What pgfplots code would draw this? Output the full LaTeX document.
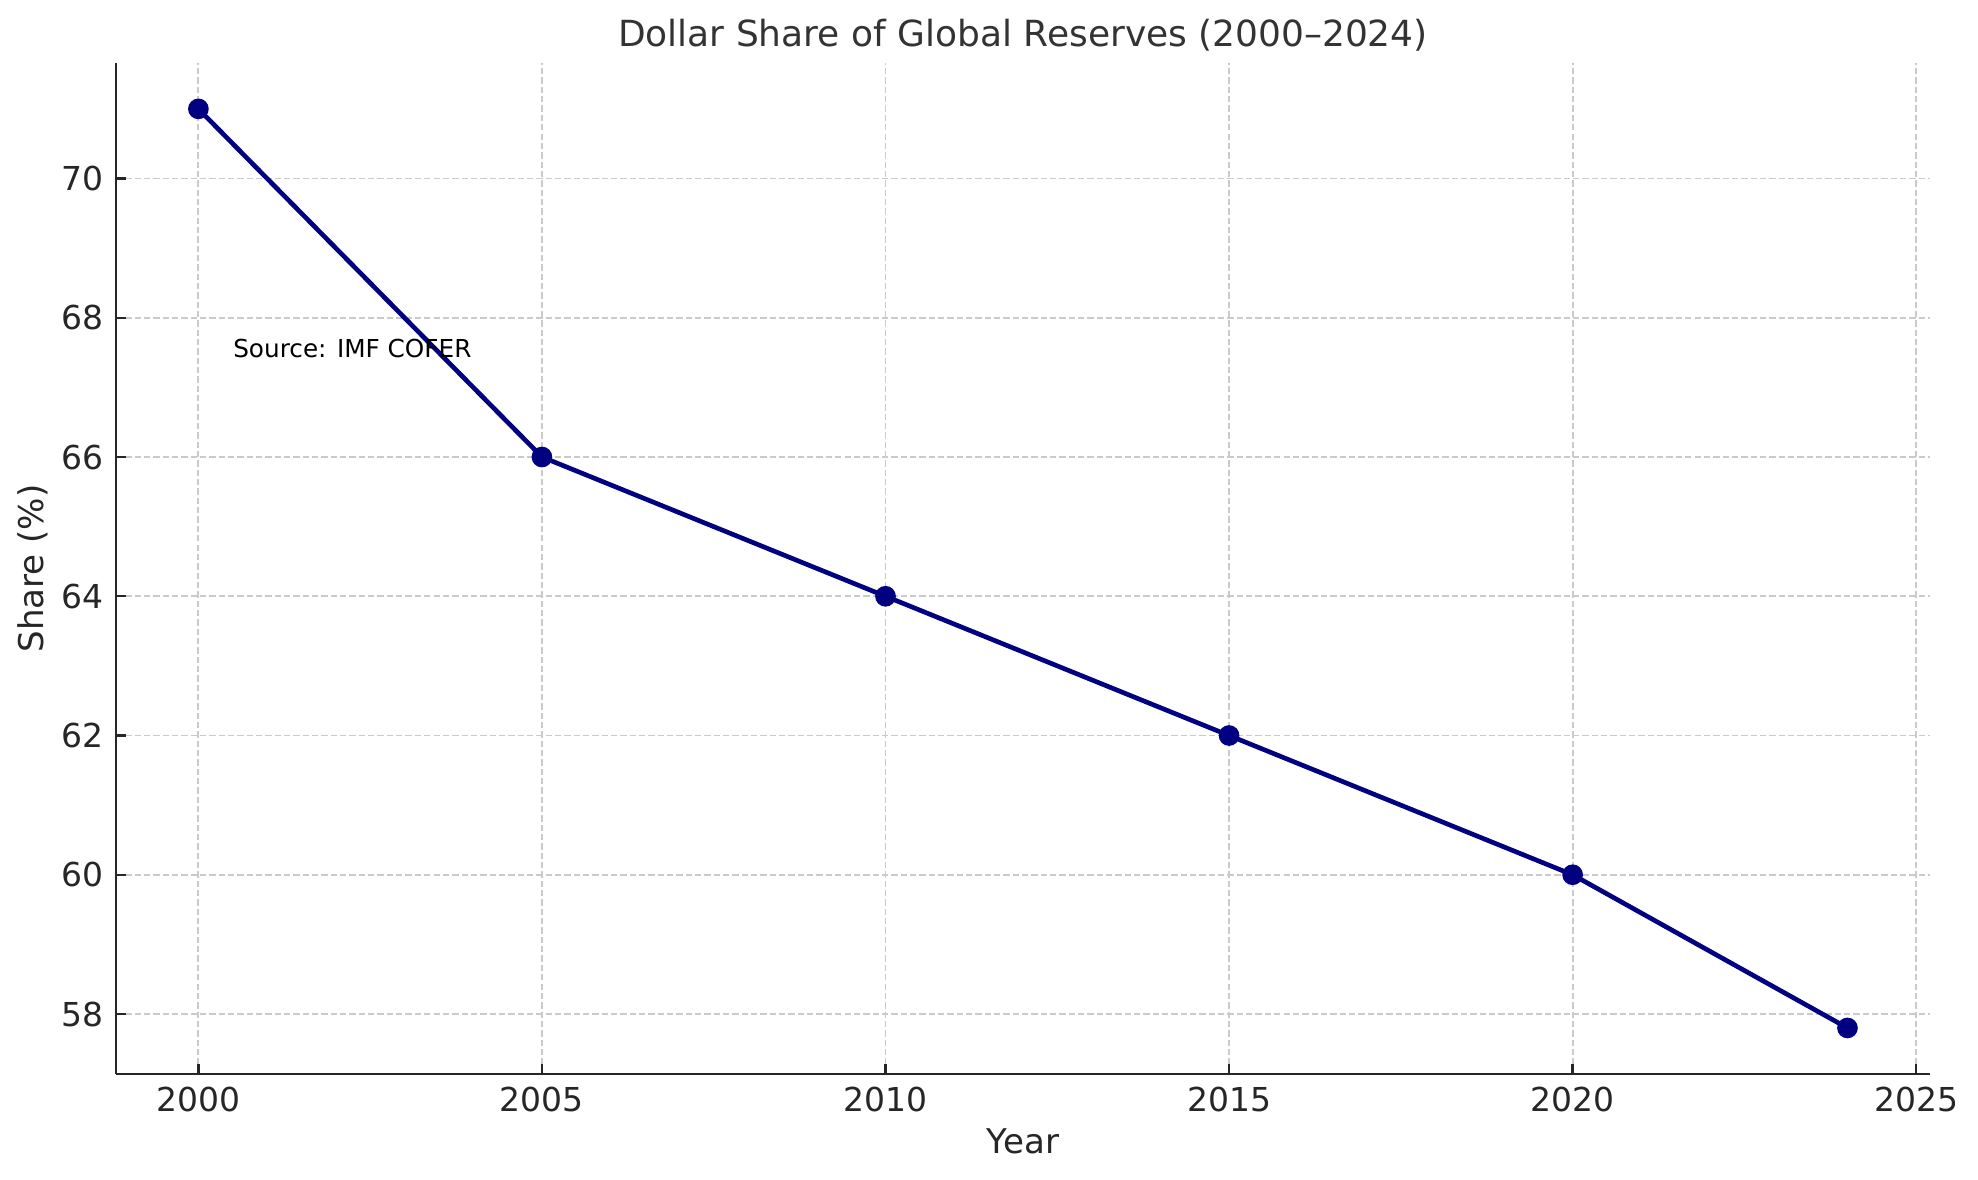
\documentclass[border=0pt]{standalone}
\usepackage{pgfplots}
\pgfplotsset{compat=1.18}
\usepackage{fontspec}
\setmainfont{DejaVu Sans}
\definecolor{navyline}{HTML}{000080}
\definecolor{spine}{HTML}{262626}
\definecolor{titlec}{HTML}{333333}
\definecolor{gridc}{HTML}{CACACA}
\begin{document}
\begin{tikzpicture}
\useasboundingbox (-42.2pt,-38.6pt) rectangle (677.8pt,390.9pt);
\begin{axis}[
  at={(0,0)}, anchor=south west,
  scale only axis,
  width=660.3pt, height=368pt,
  xmin=1998.8, xmax=2025.2,
  ymin=57.14, ymax=71.66,
  xtick={2000,2005,2010,2015,2020,2025},
  ytick={58,60,62,64,66,68,70},
  axis lines*=left,
  axis line style={spine, line width=1pt},
  tick style={spine, line width=0.9pt},
  tick align=inside,
  major tick length=3.6pt,
  /pgf/number format/assume math mode=true,
  /pgf/number format/1000 sep={},
  ticklabel style={font=\fontsize{12}{14}\selectfont, text=spine},
  xticklabel style={inner sep=0pt, anchor=north, yshift=-4.4pt},
  yticklabel style={inner sep=0pt, anchor=east, xshift=-4.4pt},
  grid=major,
  major grid style={gridc, line width=0.7pt, dash pattern=on 2.3pt off 1.1pt},
  clip=false,
]
\addplot[navyline, line width=1.7pt, mark=*, mark size=2.9pt, mark options={solid, fill=navyline, draw=navyline}]
  coordinates {(2000,71) (2005,66) (2010,64) (2015,62) (2020,60) (2024,57.8)};
\node[anchor=base west, inner sep=0pt, font=\fontsize{9}{11}\selectfont] at (axis cs:2000.5,67.43) {Source: IMF COFER};
\end{axis}
\node[anchor=base, inner sep=0pt, text=titlec, font=\fontsize{13.1}{15}\selectfont] at (330.15pt,373.8pt) {Dollar Share of Global Reserves (2000–2024)};
\node[anchor=base, inner sep=0pt, text=spine, font=\fontsize{12.4}{14}\selectfont] at (330.15pt,-28.8pt) {Year};
\node[rotate=90, anchor=base, inner sep=0pt, text=spine, font=\fontsize{12.4}{14}\selectfont] at (-26.2pt,184pt) {Share (\%)};
\end{tikzpicture}
\end{document}
